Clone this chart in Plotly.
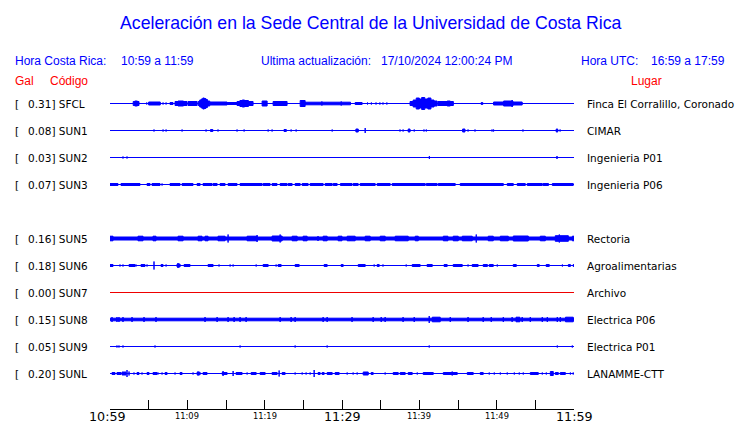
import plotly.graph_objects as go

# ---------------- data ----------------
TITLE = "Aceleración en la Sede Central de la Universidad de Costa Rica"
LOCAL_RANGE = "10:59 a 11:59"
UTC_RANGE = "16:59 a 17:59"
UPDATED = "17/10/2024 12:00:24 PM"

STATIONS = ["SFCL", "SUN1", "SUN2", "SUN3", "SUN5", "SUN6", "SUN7", "SUN8", "SUN9", "SUNL"]
GAL = [0.31, 0.08, 0.03, 0.07, 0.16, 0.18, 0.00, 0.15, 0.05, 0.20]
PLACES = ["Finca El Corralillo, Coronado", "CIMAR", "Ingenieria P01", "Ingenieria P06",
          "Rectoria", "Agroalimentarias", "Archivo", "Electrica P06", "Electrica P01", "LANAMME-CTT"]
ROW_SLOT = [0, 1, 2, 3, 5, 6, 7, 8, 9, 10]          # slot 4 (SUN4) is empty
ACTIVE = [True, True, True, True, True, True, False, True, True, True]
NOISE = [0, 0, 0, 0, 2.0, 0, 0, 1.8, 0, 0]           # continuous background half-amplitude

TICK_MINUTES = list(range(0, 61, 5))
TICK_LABELS_BIG = {0: "10:59", 30: "11:29", 60: "11:59"}
TICK_LABELS_SMALL = {10: "11:09", 20: "11:19", 40: "11:39", 50: "11:49"}

# bursts: (start minute, end minute, half amplitude) -- minutes after 10:59
SFCL = [(3.0, 3.2, 2.5), (3.2, 3.55, 3), (3.55, 3.75, 2.5), (4.75, 4.75, 1.5), (5.0, 6.5, 2),
        (6.86, 6.86, 1.5), (7.25, 7.25, 1.5), (7.76, 8.15, 1.5), (8.41, 8.8, 2.5), (8.8, 9.5, 3),
        (9.5, 9.96, 2.5), (10.09, 11.26, 2.5), (11.4, 11.6, 2.5), (11.6, 11.8, 4), (11.8, 12.0, 5),
        (12.0, 12.2, 6), (12.2, 12.4, 5.5), (12.4, 12.6, 4.5), (12.6, 12.9, 3), (12.94, 15.14, 2),
        (15.14, 16.43, 1.5), (16.43, 16.8, 2.5), (16.8, 17.1, 3.5), (17.1, 17.4, 4), (17.4, 17.9, 3.5),
        (17.9, 18.5, 2.5), (19.67, 20.32, 3), (21.09, 22.9, 2.5), (24.59, 25.23, 3.5), (25.2, 31.1, 1.8),
        (27.4, 27.4, 2.5), (29.9, 29.9, 2.5), (31.7, 32.6, 1.5), (33.3, 33.3, 1.5), (33.8, 33.8, 1.5),
        (34.4, 34.4, 1.5), (34.9, 34.9, 1.5), (35.3, 35.3, 1.5), (35.8, 35.8, 1.5), (38.8, 39.2, 2.5),
        (39.2, 39.6, 4), (39.6, 40.0, 6), (40.0, 40.3, 5), (40.3, 40.7, 6.5), (40.7, 41.1, 5),
        (41.1, 41.5, 6), (41.5, 41.9, 4), (41.9, 42.3, 3), (42.4, 44.4, 2.5), (43.6, 44.0, 3),
        (48.0, 48.2, 1.5), (49.6, 50.9, 2), (50.9, 52.1, 3), (52.0, 52.0, 4), (52.1, 53.3, 2)]
SUN1 = [(5.69, 5.69, 1.5), (6.86, 6.86, 1.5), (7.25, 7.25, 1.5), (9.32, 9.32, 1.5), (12.42, 12.42, 1.5),
        (13.0, 13.3, 1.5), (13.97, 13.97, 1.5), (16.43, 16.43, 1.5), (17.34, 17.34, 1.5), (20.45, 20.45, 1.5),
        (20.96, 20.96, 1.5), (22.5, 22.8, 1.5), (23.42, 23.42, 1.5), (24.07, 24.07, 1.5), (28.73, 28.73, 1.5),
        (29.5, 29.5, 1), (31.8, 32.1, 2), (33.0, 33.0, 3), (37.5, 37.5, 1.5), (37.9, 37.9, 1.5),
        (38.56, 38.8, 2), (39.34, 39.34, 1.5), (40.6, 40.6, 1.5), (40.9, 40.9, 1.5), (45.6, 45.9, 2),
        (46.3, 46.3, 1.5), (47.2, 47.2, 1.5), (49.4, 49.4, 1.5), (49.6, 49.6, 1.5), (53.4, 53.4, 1.5),
        (55.5, 55.5, 1), (57.7, 57.9, 2), (58.2, 58.2, 1.5)]
SUN2 = [(1.68, 1.68, 1.5), (2.2, 2.2, 1.5), (33.9, 33.9, 1), (41.3, 41.3, 2), (57.8, 57.8, 2)]
SUN3 = [(0, 1.03, 1.5), (1.42, 3.88, 1.5), (4.79, 5.18, 1.5), (5.43, 6.47, 1.5), (6.73, 6.73, 1.5),
        (7.76, 9.06, 1.5), (9.32, 10.74, 1.5), (11.26, 11.65, 1.5), (12.03, 13.2, 1.5), (13.33, 13.85, 1.5),
        (14.23, 14.88, 1.5), (15.27, 16.43, 1.5), (16.82, 19.67, 1.5), (19.8, 20.7, 1.5), (20.96, 21.6, 1.5),
        (22.0, 22.9, 1.5), (23.03, 23.55, 1.5), (23.94, 24.59, 1.5), (24.85, 25.62, 1.5), (25.88, 27.56, 1.5),
        (27.82, 28.73, 1.5), (28.86, 29.37, 1.5), (29.8, 31.3, 1.5), (31.44, 32.09, 1.5), (32.35, 34.29, 1.5),
        (34.55, 36.23, 1.5), (36.49, 40.76, 1.5), (40.9, 42.3, 1.5), (42.44, 44.64, 1.5), (45.29, 50.86, 1.5),
        (51.37, 52.15, 1.5), (52.66, 53.7, 1.5), (53.96, 55.9, 1.5), (56.0, 56.7, 1.5), (57.2, 59.9, 1.5)]
SUN5 = [(0, 0.39, 2.8), (3.62, 4.27, 2.8), (5.56, 5.95, 2.8), (8.8, 9.45, 2.8), (11.39, 11.9, 2.8),
        (12.29, 12.68, 2.8), (13.97, 14.88, 2.8), (15.27, 15.27, 4.5), (17.73, 19.02, 2.8), (19.02, 19.02, 4),
        (20.96, 22.26, 3), (22.0, 22.0, 4.5), (23.55, 24.2, 2.8), (24.97, 25.49, 2.8), (26.9, 26.9, 3),
        (27.56, 28.08, 2.8), (29.5, 30.0, 2.8), (30.67, 31.06, 2.8), (31.06, 31.7, 2.8), (33.0, 33.64, 2.8),
        (34.94, 35.58, 2.8), (36.88, 38.56, 2.8), (39.47, 39.86, 2.8), (43.1, 43.7, 2.8), (44.38, 45.03, 2.8),
        (45.55, 46.84, 2.8), (47.36, 47.36, 4.5), (48.91, 49.56, 2.8), (50.47, 51.5, 2.8), (52.15, 54.09, 3),
        (55.64, 56.29, 2.8), (57.58, 59.27, 3.3), (58.1, 58.1, 4.5), (59.78, 60, 2.8)]
SUN6 = [(0, 0.39, 1.5), (1.29, 1.29, 1.5), (1.68, 1.68, 1.5), (2.46, 3.23, 1.5), (3.36, 3.36, 1.5),
        (4.01, 4.53, 1.5), (4.79, 4.79, 1.5), (5.69, 5.69, 4.5), (6.6, 6.86, 1.5), (7.25, 7.25, 1.5),
        (8.67, 9.06, 2), (8.8, 8.8, 3), (9.58, 10.35, 1.5), (12.68, 13.33, 1.5), (14.1, 14.1, 1.5),
        (15.53, 15.53, 1.5), (15.92, 15.92, 1.5), (17.86, 17.86, 1), (18.9, 18.9, 1.5), (19.8, 20.45, 1.5),
        (21.48, 21.48, 1.5), (21.74, 22.13, 1.5), (23.94, 24.46, 1.5), (25.1, 25.1, 1), (26.27, 26.27, 1),
        (27.69, 28.08, 1.5), (29.1, 29.1, 1), (29.89, 30.15, 1.5), (32.1, 33.0, 1.5), (34.16, 34.16, 1.5),
        (34.55, 34.81, 1.5), (35.3, 35.3, 1.5), (37.5, 37.5, 1), (38.3, 38.3, 1.5), (39.08, 40.1, 1.5),
        (41.0, 41.67, 1.5), (43.2, 43.6, 1.5), (44.38, 45.55, 1.5), (46.3, 46.3, 1.5), (46.84, 47.6, 1.5),
        (48.26, 48.8, 1.5), (49.04, 49.56, 1.5), (50.08, 50.08, 1.5), (51.5, 51.5, 1), (52.15, 52.54, 1.5),
        (53.96, 53.96, 1), (55.25, 55.5, 1.5), (55.9, 55.9, 1), (56.4, 56.8, 1.5), (57.84, 57.84, 1),
        (58.5, 58.5, 1.5), (59.27, 59.53, 1.5), (59.9, 60, 1.5)]
SUN7 = []
SUN8 = [(0.26, 0.26, 3), (0.9, 0.9, 3), (1.16, 1.16, 3), (1.68, 1.68, 3), (2.85, 2.85, 3), (4.4, 4.4, 3),
        (5.95, 5.95, 3), (12.29, 12.29, 3), (13.85, 13.85, 3), (15.27, 15.27, 3), (16.05, 16.05, 3),
        (16.82, 16.82, 3), (17.6, 17.6, 3), (22.0, 22.0, 3), (23.42, 23.42, 3), (23.94, 23.94, 3),
        (27.56, 27.56, 3), (28.08, 28.08, 3), (31.3, 31.3, 3), (34.03, 34.03, 3), (35.07, 35.07, 3),
        (35.58, 35.58, 3), (37.9, 37.9, 3), (39.34, 39.34, 3), (41.28, 41.28, 4), (41.67, 42.7, 2.8),
        (44.0, 44.0, 3), (46.3, 46.3, 3), (48.26, 48.26, 3), (49.3, 49.3, 3), (50.86, 50.86, 3),
        (52.0, 52.0, 3), (52.5, 53.0, 2.8), (53.3, 53.3, 3), (54.35, 54.35, 3), (55.9, 55.9, 3),
        (56.55, 56.55, 3), (57.84, 57.84, 3), (58.23, 58.23, 3), (58.9, 59.9, 2.8)]
SUN9 = [(0.9, 0.9, 1.5), (1.16, 1.16, 1.5), (1.68, 1.68, 1.5), (5.82, 5.82, 1.5), (12.29, 12.29, 1),
        (16.82, 16.82, 1.5), (23.94, 23.94, 1.5), (28.08, 28.08, 1.5), (33.9, 33.9, 1), (41.28, 41.28, 1.5),
        (43.87, 43.87, 1), (57.84, 57.84, 1.5), (59.78, 59.78, 1.5)]
SUNL = [(0.26, 0.65, 1.5), (0.9, 1.42, 1.5), (1.55, 2.07, 2), (2.2, 2.2, 4), (2.46, 2.46, 2.5),
        (3.1, 3.1, 1.5), (3.49, 3.75, 1.5), (4.14, 4.14, 1.5), (4.79, 5.05, 1.5), (5.56, 6.08, 1.5),
        (6.2, 6.2, 1.5), (6.73, 6.73, 1.5), (7.12, 7.38, 1.5), (8.41, 8.41, 1.5), (9.06, 9.32, 1.5),
        (10.74, 10.74, 1.5), (11.26, 11.65, 1.8), (11.39, 11.39, 2.5), (12.03, 12.55, 1.5), (14.5, 15.14, 1.5),
        (14.62, 14.62, 3), (15.92, 15.92, 3), (16.3, 17.08, 1.5), (17.73, 17.73, 1.5), (18.25, 18.9, 1.5),
        (19.41, 20.06, 1.5), (20.96, 21.61, 1.5), (21.87, 21.87, 3.5), (22.26, 22.64, 1.5), (23.94, 23.94, 1.5),
        (24.85, 24.85, 1.5), (25.36, 25.36, 1.5), (25.88, 25.88, 1.5), (26.4, 26.4, 4), (26.91, 27.17, 1.5),
        (27.43, 27.69, 1.5), (28.08, 28.73, 1.5), (29.11, 29.63, 1.5), (30.67, 30.67, 1.5), (31.44, 31.44, 1.5),
        (31.96, 31.96, 1.5), (32.74, 33.39, 2), (33.77, 34.03, 1.5), (35.58, 35.58, 1.5), (36.62, 37.27, 1.5),
        (37.53, 38.17, 1.5), (38.56, 39.08, 1.5), (39.73, 39.73, 1.5), (40.5, 41.8, 1.5), (43.1, 44.9, 1.5),
        (44.25, 44.25, 2.5), (46.2, 46.97, 1.5), (47.88, 48.26, 1.5), (49.04, 49.04, 1.5), (49.69, 49.69, 1.5),
        (50.47, 50.47, 1.5), (51.37, 51.37, 1.5), (52.28, 52.28, 1.5), (52.92, 52.92, 1.5), (53.44, 53.44, 1.5),
        (54.35, 55.38, 1.5), (55.9, 55.9, 1.5), (56.42, 56.42, 1.5), (56.94, 57.32, 2.5), (57.58, 57.97, 1.5),
        (58.23, 58.88, 1.5), (59.53, 59.53, 1.5), (59.9, 59.9, 1.5)]
BURSTS = [SFCL, SUN1, SUN2, SUN3, SUN5, SUN6, SUN7, SUN8, SUN9, SUNL]

# ---------------- layout helpers ----------------
W, H = 740, 423
ML, MR, MT, MB = 110, 166, 90, 14
PW, PH = W - ML - MR, H - MT - MB
ROW_GAP = 27
Y_TOP = 13.5          # half-pixel offset so 1px lines sit on a pixel row
Y_BOT = Y_TOP - PH

BLUE = "#0000ff"
RED = "#ff0000"
SHRINK = 0.5   # outline width compensation for filled bursts


def px(xp):
    return (xp - ML) / PW


def py(yp):
    return (H - MB - yp) / PH


fig = go.Figure()

for i, name in enumerate(STATIONS):
    yb = -ROW_GAP * ROW_SLOT[i]
    color = BLUE if ACTIVE[i] else "#ee0000"
    fig.add_trace(go.Scatter(x=[0, 60], y=[yb, yb], mode="lines",
                             line=dict(color=color, width=1), hoverinfo="skip", showlegend=False))
    xs, ys = [], []
    if NOISE[i] > 0:
        n = NOISE[i] - SHRINK
        xs += [0, 60, 60, 0, 0, None]
        ys += [yb - n, yb - n, yb + n, yb + n, yb - n, None]
    for (t0, t1, a) in BURSTS[i]:
        a = a - SHRINK
        xs += [t0, t1, t1, t0, t0, None]
        ys += [yb - a, yb - a, yb + a, yb + a, yb - a, None]
    if xs:
        fig.add_trace(go.Scatter(x=xs, y=ys, mode="lines", fill="toself", fillcolor=color,
                                 line=dict(color=color, width=1), hoverinfo="skip", showlegend=False))

ann = []


def text(x, y, s, size, color, family, xanchor="left", yref="paper"):
    ann.append(dict(x=x, y=y, xref="paper", yref=yref, text=s, showarrow=False,
                    xanchor=xanchor, yanchor="middle", borderpad=0, borderwidth=0,
                    font=dict(size=size, color=color, family=family)))


SANS = "Liberation Sans, Arial, sans-serif"
DJ = "DejaVu Sans, sans-serif"

text(px(370.8), py(23.3), TITLE, 17.7, BLUE, SANS, "center")
text(px(15), py(60.7), "Hora Costa Rica:", 12, BLUE, SANS)
text(px(120.7), py(60.7), LOCAL_RANGE, 12, BLUE, SANS)
text(px(260.7), py(60.7), "Ultima actualización:", 12, BLUE, SANS)
text(px(381.3), py(60.7), UPDATED, 12, BLUE, SANS)
text(px(580.7), py(60.7), "Hora UTC:", 12, BLUE, SANS)
text(px(650.7), py(60.7), UTC_RANGE, 12, BLUE, SANS)
text(px(15), py(80.7), "Gal", 12, RED, SANS)
text(px(50), py(80.7), "Código", 12, RED, SANS)
text(px(646), py(80.7), "Lugar", 12, RED, SANS, "center")

for i, name in enumerate(STATIONS):
    yb = -ROW_GAP * ROW_SLOT[i]
    text(px(15), yb, "[", 10.5, "black", DJ, yref="y")
    text(px(27.7), yb, f"{GAL[i]:.2f}] {name}", 10.5, "black", DJ, yref="y")
    text(px(587.3), yb, PLACES[i], 10.5, "black", DJ, yref="y")

for m, lab in TICK_LABELS_BIG.items():
    ann.append(dict(x=m, y=py(416.7), xref="x", yref="paper", text=lab, showarrow=False,
                    xanchor="center", yanchor="middle", borderpad=0, borderwidth=0,
                    xshift=-2.5 if m == 0 else 0,
                    font=dict(size=12.7, color="black", family=DJ)))
for m, lab in TICK_LABELS_SMALL.items():
    ann.append(dict(x=m, y=py(415.7), xref="x", yref="paper", text=lab, showarrow=False,
                    xanchor="center", yanchor="middle", borderpad=0, borderwidth=0,
                    font=dict(size=8.3, color="black", family=DJ)))

fig.update_layout(
    width=W, height=H, margin=dict(l=ML, r=MR, t=MT, b=MB, pad=0),
    paper_bgcolor="white", plot_bgcolor="white", showlegend=False,
    annotations=ann,
    xaxis=dict(range=[0, 60], showgrid=False, zeroline=False, showline=True, linecolor="black",
               linewidth=1, ticks="inside", ticklen=9, tickcolor="black", tickwidth=1,
               tickvals=TICK_MINUTES, showticklabels=False, fixedrange=True),
    yaxis=dict(range=[Y_BOT, Y_TOP], visible=False, fixedrange=True),
)

fig.write_html("out.html", config={"displayModeBar": False},
               post_script="document.body.style.margin='0';document.body.style.padding='0';")
